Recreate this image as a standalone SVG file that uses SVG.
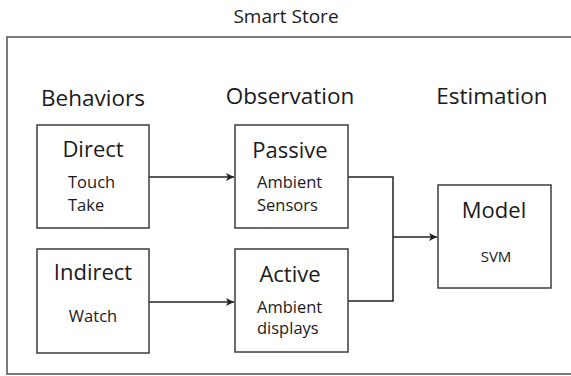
<svg xmlns="http://www.w3.org/2000/svg" width="571" height="376" viewBox="0 0 571 376">
<style>
  text { font-family: "Open Sans", "Liberation Sans", sans-serif; fill: #1a1a1a; }
  .title { font-size: 19px; text-anchor: middle; }
  .head { font-size: 22.5px; text-anchor: middle; }
  .name { font-size: 22px; text-anchor: middle; }
  .sub { font-size: 16.5px; }
  .box { fill: #ffffff; stroke: #3c3c3c; stroke-width: 1.5; }
  .frame { fill: #ffffff; stroke: #5a5a5a; stroke-width: 1.6; }
  .conn { fill: none; stroke: #222222; stroke-width: 1.5; }
</style>
<defs>
  <marker id="arrow" markerUnits="userSpaceOnUse" markerWidth="10" markerHeight="10" refX="9" refY="5" orient="auto">
    <path d="M1,1 L9,5 L1,9 L3,5 z" fill="#222222"/>
  </marker>
</defs>
<rect width="571" height="376" fill="#ffffff"/>
<text class="title" x="286" y="23">Smart Store</text>
<rect class="frame" x="7" y="37" width="580" height="337"/>
<text class="head" x="93" y="106">Behaviors</text>
<text class="head" x="290" y="104">Observation</text>
<text class="head" x="492" y="104">Estimation</text>

<g id="connectors">
  <path class="conn" d="M149,177 H234" marker-end="url(#arrow)"/>
  <path class="conn" d="M149,302 H234" marker-end="url(#arrow)"/>
  <path class="conn" d="M348,177 H393 V301 H348"/>
  <path class="conn" d="M393,237 H437" marker-end="url(#arrow)"/>
</g>

<g id="direct">
  <rect class="box" x="37" y="125" width="112" height="103"/>
  <text class="name" x="93" y="157">Direct</text>
  <text class="sub" x="68" y="188">Touch</text>
  <text class="sub" x="68" y="211">Take</text>
</g>
<g id="indirect">
  <rect class="box" x="37" y="249" width="112" height="104"/>
  <text class="name" x="93" y="280">Indirect</text>
  <text class="sub" x="93" y="322" text-anchor="middle">Watch</text>
</g>
<g id="passive">
  <rect class="box" x="235" y="125" width="113" height="103"/>
  <text class="name" x="290" y="158">Passive</text>
  <text class="sub" x="257" y="188">Ambient</text>
  <text class="sub" x="257" y="211">Sensors</text>
</g>
<g id="active">
  <rect class="box" x="235" y="249" width="113" height="103"/>
  <text class="name" x="290" y="282">Active</text>
  <text class="sub" x="257" y="313">Ambient</text>
  <text class="sub" x="257" y="334">displays</text>
</g>
<g id="model">
  <rect class="box" x="438" y="185" width="113" height="103"/>
  <text class="name" x="494" y="218">Model</text>
  <text x="496" y="262" font-size="15" text-anchor="middle">SVM</text>
</g>
</svg>
